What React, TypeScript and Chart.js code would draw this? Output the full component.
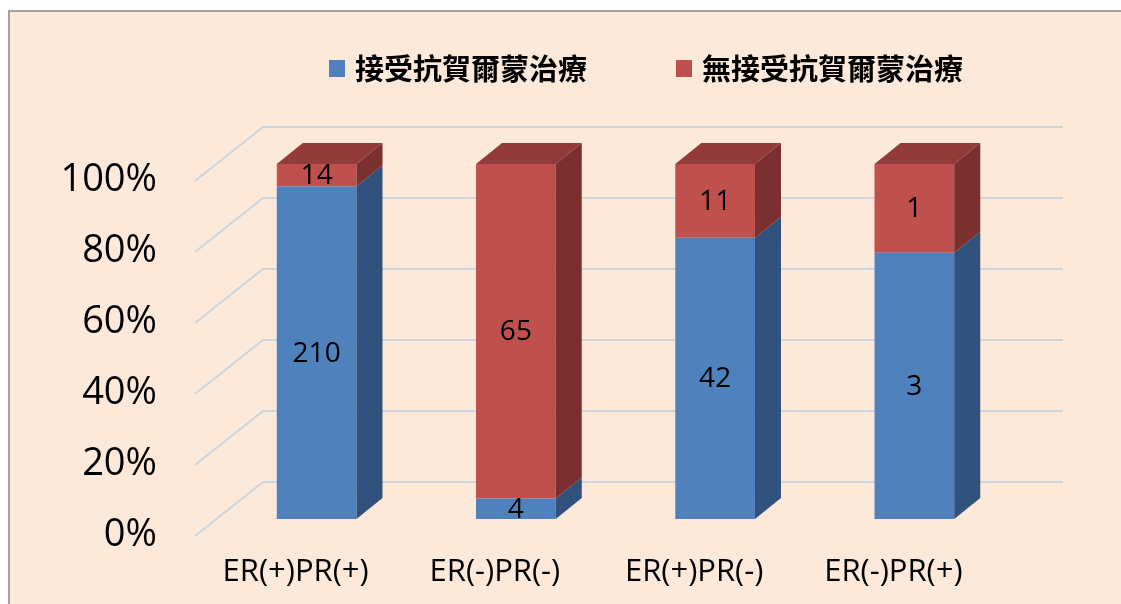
import React, { useEffect, useRef } from 'react';
import { Chart, registerables } from 'chart.js';

Chart.register(...registerables);

const categories = ['ER(+)PR(+)', 'ER(-)PR(-)', 'ER(+)PR(-)', 'ER(-)PR(+)'];
const seriesNames = ['接受抗賀爾蒙治療', '無接受抗賀爾蒙治療'];
const treatedCounts = [210, 4, 42, 3];
const untreatedCounts = [14, 65, 11, 1];
const yTickValues = [0, 20, 40, 60, 80, 100];

const totals = categories.map((_, i) => treatedCounts[i] + untreatedCounts[i]);
const toPct = (arr: number[]) => arr.map((v, i) => (v / totals[i]) * 100);
const countsBySeries = [treatedCounts, untreatedCounts];

const FRONT = ['#4F81BD', '#C0504D'];
const SIDE = ['#30527C', '#7B2F2E'];
const TOP = ['#3D6797', '#933B39'];
const BG = '#FDE9D9';
const GRID = '#CCD5DC';
const LATIN = "'Open Sans', 'DejaVu Sans', sans-serif";
const CJK = "'Noto Sans CJK TC', 'Noto Sans CJK SC', sans-serif";

const BAR_DX = 26;
const BAR_DY = 21;
const WALL_BACK = 37;
const WALL_DX = 68;
const WALL_DY = 54;

const backgroundPlugin = {
  id: 'panelBg',
  beforeDraw(chart: any) {
    const { ctx, width, height } = chart;
    ctx.save();
    ctx.fillStyle = '#FFFFFF';
    ctx.fillRect(0, 0, width, height);
    ctx.fillStyle = BG;
    ctx.fillRect(10, 12, width - 10, height - 12);
    ctx.strokeStyle = '#A8A29C';
    ctx.lineWidth = 2;
    ctx.beginPath();
    ctx.moveTo(9, height);
    ctx.lineTo(9, 11);
    ctx.lineTo(width, 11);
    ctx.stroke();
    ctx.restore();
  },
};

const wallPlugin = {
  id: 'wall3d',
  beforeDatasetsDraw(chart: any) {
    const { ctx, chartArea, scales } = chart;
    const y = scales.y;
    ctx.save();
    ctx.strokeStyle = GRID;
    ctx.lineWidth = 2;
    yTickValues.forEach((v) => {
      const yf = y.getPixelForValue(v);
      const yb = yf - WALL_BACK;
      const xl = chartArea.left + 46;
      ctx.beginPath();
      ctx.moveTo(xl - WALL_DX, yb + WALL_DY);
      ctx.lineTo(xl, yb);
      ctx.lineTo(chartArea.right + 49, yb);
      ctx.stroke();
    });
    ctx.restore();
  },
};

const bar3dPlugin = {
  id: 'bar3d',
  afterDatasetsDraw(chart: any) {
    const { ctx } = chart;
    const nData = categories.length;
    ctx.save();
    for (let i = 0; i < nData; i++) {
      let topY = Infinity;
      let topDs = 0;
      let left = 0;
      let right = 0;
      chart.data.datasets.forEach((ds: any, d: number) => {
        const meta = chart.getDatasetMeta(d);
        const el = meta.data[i];
        const p = el.getProps(['x', 'y', 'base', 'width'], true);
        const l = p.x - p.width / 2;
        const r = p.x + p.width / 2;
        const t = Math.min(p.y, p.base);
        const b = Math.max(p.y, p.base);
        if (b - t > 0.01) {
          ctx.fillStyle = SIDE[d];
          ctx.beginPath();
          ctx.moveTo(r, t);
          ctx.lineTo(r + BAR_DX, t - BAR_DY);
          ctx.lineTo(r + BAR_DX, b - BAR_DY);
          ctx.lineTo(r, b);
          ctx.closePath();
          ctx.fill();
          if (t < topY) {
            topY = t;
            topDs = d;
            left = l;
            right = r;
          }
        }
      });
      ctx.fillStyle = TOP[topDs];
      ctx.beginPath();
      ctx.moveTo(left, topY);
      ctx.lineTo(left + BAR_DX, topY - BAR_DY);
      ctx.lineTo(right + BAR_DX, topY - BAR_DY);
      ctx.lineTo(right, topY);
      ctx.closePath();
      ctx.fill();
    }
    ctx.fillStyle = '#000000';
    ctx.font = `28px ${LATIN}`;
    ctx.textAlign = 'center';
    ctx.textBaseline = 'middle';
    chart.data.datasets.forEach((ds: any, d: number) => {
      const meta = chart.getDatasetMeta(d);
      meta.data.forEach((el: any, i: number) => {
        const p = el.getProps(['x', 'y', 'base'], true);
        ctx.fillText(String(countsBySeries[d][i]), p.x, (p.y + p.base) / 2 + 1);
      });
    });
    ctx.restore();
  },
};

const legendPlugin = {
  id: 'customLegend',
  afterDraw(chart: any) {
    const { ctx } = chart;
    ctx.save();
    ctx.font = `bold 29px ${CJK}`;
    ctx.textBaseline = 'middle';
    ctx.textAlign = 'left';
    let x = 329;
    const cy = 68;
    chart.data.datasets.forEach((ds: any) => {
      ctx.fillStyle = ds.backgroundColor;
      ctx.fillRect(x, cy - 8, 16, 17);
      ctx.fillStyle = '#000000';
      ctx.fillText(ds.label, x + 26, cy + 1);
      x += 26 + ctx.measureText(ds.label).width + 89;
    });
    ctx.restore();
  },
};

export default function App() {
  const ref = useRef<HTMLCanvasElement | null>(null);
  useEffect(() => {
    if (!ref.current) return;
    const chart = new Chart(ref.current, {
      type: 'bar',
      data: {
        labels: categories,
        datasets: [
          {
            label: seriesNames[0],
            data: toPct(treatedCounts),
            backgroundColor: FRONT[0],
            borderWidth: 0,
            barPercentage: 0.4,
            categoryPercentage: 1,
          },
          {
            label: seriesNames[1],
            data: toPct(untreatedCounts),
            backgroundColor: FRONT[1],
            borderWidth: 0,
            barPercentage: 0.4,
            categoryPercentage: 1,
          },
        ],
      },
      options: {
        responsive: false,
        animation: false,
        devicePixelRatio: 1,
        events: [],
        layout: { padding: { left: 0, right: 107, top: 164, bottom: 0 } },
        plugins: {
          legend: { display: false },
          tooltip: { enabled: false },
          title: { display: false },
        },
        scales: {
          x: {
            stacked: true,
            grid: { display: false, drawTicks: false },
            border: { display: false },
            ticks: {
              color: '#000000',
              font: { family: LATIN, size: 31 },
              padding: 35,
              labelOffset: -21,
              maxRotation: 0,
              autoSkip: false,
            },
            afterFit: (s: any) => {
              s.height = 85;
            },
          },
          y: {
            stacked: true,
            min: 0,
            max: 100,
            grid: { display: false, drawTicks: false },
            border: { display: false },
            ticks: {
              stepSize: 20,
              color: '#000000',
              font: { family: LATIN, size: 38 },
              padding: 60,
              labelOffset: 16.5,
              callback: (v: any) => `${v}%`,
            },
            afterFit: (s: any) => {
              s.width = 217;
            },
          },
        },
      },
      plugins: [backgroundPlugin, wallPlugin, bar3dPlugin, legendPlugin],
    });
    return () => chart.destroy();
  }, []);
  return (
    <div style={{ position: 'fixed', left: 0, top: 0, width: 1121, height: 604 }}>
      <canvas ref={ref} width={1121} height={604} />
    </div>
  );
}
